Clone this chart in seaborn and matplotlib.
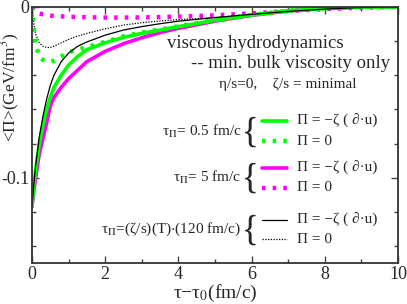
import numpy as np
import pandas as pd
import matplotlib
matplotlib.use("Agg")
import matplotlib.pyplot as plt
import seaborn as sns

# time after tau_0 (fm/c)
tau = [0, 0.05, 0.1, 0.2, 0.3, 0.4, 0.5, 0.6, 0.8, 1.0, 1.25, 1.5, 2, 2.5,
       3, 3.5, 4, 5, 6, 7, 8, 9, 10]

# tau_Pi = 0.5 fm/c
green_ns = [-0.117, -0.105, -0.095, -0.080, -0.069, -0.060, -0.053, -0.047, -0.040,
            -0.034, -0.029, -0.025, -0.021, -0.0178, -0.0155, -0.0135, -0.0115,
            -0.0078, -0.0047, -0.0022, -0.0008, 0.0, 0.0]
green_zero = [0.0, -0.013, -0.022, -0.029, -0.031, -0.032, -0.032, -0.0315, -0.029,
              -0.0265, -0.025, -0.0235, -0.0205, -0.0172, -0.015, -0.0132, -0.0113,
              -0.0077, -0.0046, -0.0022, -0.0008, 0.0, 0.0]
# tau_Pi = 5 fm/c
mag_ns = [-0.117, -0.108, -0.100, -0.086, -0.077, -0.068, -0.058, -0.053, -0.047,
          -0.042, -0.037, -0.032, -0.026, -0.0215, -0.018, -0.015, -0.0125,
          -0.0083, -0.0049, -0.0023, -0.0008, 0.0, 0.0]
mag_zero = [0.0, -0.002, -0.003, -0.0038, -0.0043, -0.0047, -0.005, -0.0052, -0.0055,
            -0.0057, -0.0059, -0.006, -0.0062, -0.0062, -0.0061, -0.0059, -0.0056,
            -0.0049, -0.0037, -0.0024, -0.0012, -0.0004, 0.0]
# tau_Pi = (zeta/s)(T) * 120 fm/c
blk_ns = [-0.117, -0.104, -0.093, -0.076, -0.064, -0.054, -0.046, -0.040, -0.032,
          -0.027, -0.023, -0.0205, -0.0165, -0.0135, -0.0115, -0.0098, -0.0083,
          -0.0062, -0.0043, -0.0026, -0.0012, -0.0003, 0.0]
blk_zero = [0.0, -0.010, -0.016, -0.021, -0.023, -0.0237, -0.0237, -0.023, -0.021,
            -0.019, -0.017, -0.0155, -0.0128, -0.0106, -0.0092, -0.0082, -0.0074,
            -0.0062, -0.0044, -0.0027, -0.0013, -0.0004, 0.0]

sns.set_style("ticks")
plt.rcParams["font.family"] = ["Liberation Serif", "DejaVu Serif"]
plt.rcParams["mathtext.fontset"] = "stix"

fig = plt.figure(figsize=(4.07, 3.04), dpi=100)
ax = fig.add_axes([0.0786, 0.135, 0.8994, 0.842])

GREEN = "#00ff00"
MAGENTA = "#ff00ff"
dots = (0, (0.8, 1.6))
fine_dots = (0, (1, 1.2))

curves = [
    (mag_ns, MAGENTA, "-", 2.6),
    (mag_zero, MAGENTA, dots, 3.2),
    (blk_zero, "black", fine_dots, 0.9),
    (green_zero, GREEN, dots, 3.2),
    (green_ns, GREEN, "-", 2.6),
    (blk_ns, "black", "-", 0.9),
]
for vals, col, ls, lw in curves:
    df = pd.DataFrame({"tau": tau, "pi": vals})
    sns.lineplot(data=df, x="tau", y="pi", ax=ax, color=col, linestyle=ls,
                 linewidth=lw, sort=False)

ax.set_xlim(0, 10)
ax.set_ylim(-0.15, 0)
ax.set_xticks([0, 2, 4, 6, 8, 10])
ax.set_xticklabels(["0", "2", "4", "6", "8", "10"])
ax.set_xticks([1, 3, 5, 7, 9], minor=True)
ax.set_yticks([-0.1, 0])
ax.set_yticklabels(["-0.1", "0"])
ax.set_yticks([-0.14, -0.12, -0.08, -0.06, -0.04, -0.02], minor=True)
ax.tick_params(which="both", direction="in", top=True, right=True,
               labelsize=13, pad=2, width=1, color="#444444")
ax.tick_params(which="major", length=5)
ax.tick_params(which="minor", length=3)
for s in ax.spines.values():
    s.set_linewidth(1.3)
    s.set_color("#333333")

ax.set_xlabel("τ−τ$_0$(fm/c)", fontsize=14, labelpad=0)
ax.set_ylabel("<Π>(GeV/fm$^3$)", fontsize=12.5)
ax.yaxis.set_label_coords(-0.028, 0.685)

ax.text(6.1, -0.0215, "viscous hydrodynamics", fontsize=13.5, ha="center", va="center")
ax.text(9.78, -0.033, "-- min. bulk viscosity only", fontsize=13.5, ha="right", va="center")
ax.text(5.1, -0.0455, "η/s=0,    ζ/s = minimal", fontsize=11,
        ha="left", va="center")

rows = [(-0.0728, "τ$_\\Pi$= 0.5 fm/c", GREEN, 2.6, 3.2, dots),
        (-0.1, "τ$_\\Pi$= 5 fm/c", MAGENTA, 2.6, 3.2, dots),
        (-0.1303, "τ$_\\Pi$=(ζ/s)(T)$\\cdot$(120 fm/c)", "black", 0.9, 0.9, fine_dots)]
for yc, lab, col, lw1, lw2, ls2 in rows:
    ax.text(5.72, yc, lab, fontsize=11, ha="right", va="center")
    ax.text(5.96, yc - 0.0012, "{", fontsize=25, ha="center", va="center")
    ax.plot([6.28, 6.97], [yc + 0.0057, yc + 0.0057], color=col, lw=lw1)
    ax.plot([6.28, 6.97], [yc - 0.0058, yc - 0.0058], color=col, lw=lw2, ls=ls2)
    ax.text(7.24, yc + 0.0058, "Π = −ζ ( ∂·u)", fontsize=11,
            ha="left", va="center")
    ax.text(7.24, yc - 0.0058, "Π = 0", fontsize=11, ha="left", va="center")

fig.savefig("out.png", dpi=100)
